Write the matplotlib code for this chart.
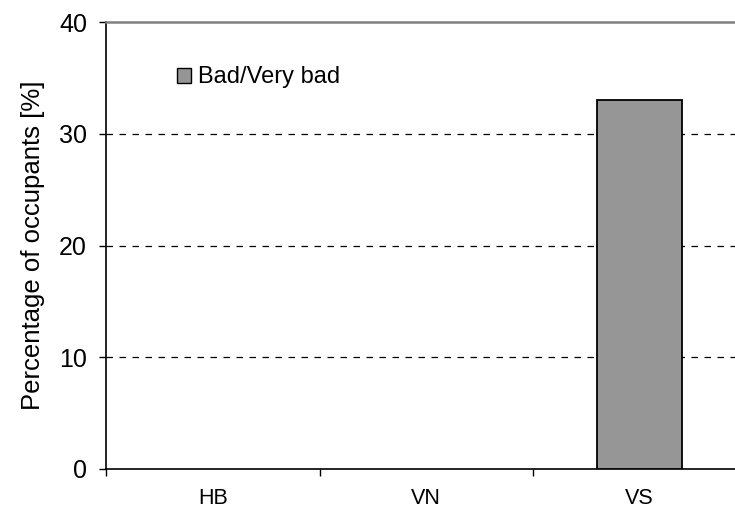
import matplotlib
matplotlib.use("Agg")
import matplotlib.pyplot as plt
from matplotlib.patches import Patch

categories = ["HB", "VN", "VS"]
values = [0, 0, 33]
series_name = "Bad/Very bad"
yticks = [0, 10, 20, 30, 40]

plt.rcParams['font.family'] = ['Liberation Sans', 'DejaVu Sans']

W, H = 735, 513
fig = plt.figure(figsize=(W / 100, H / 100), dpi=100)
left, right, top, bottom = 106, 746.5, 22, 469
ax = fig.add_axes([left / W, (H - bottom) / H, (right - left) / W, (bottom - top) / H])

x = list(range(len(categories)))
lws = [0 if v == 0 else 1.3 for v in values]
ax.bar(x, values, width=0.40, color="#969696", edgecolor="black", linewidth=lws, zorder=3)

ax.set_xlim(-0.5, 2.5)
ax.set_ylim(0, 40)
ax.set_yticks(yticks)
ax.set_yticklabels([str(v) for v in yticks], fontsize=18)
ax.tick_params(axis='y', length=5.2, width=1, pad=8.5, direction='out')
ax.yaxis.get_major_ticks()[-1].tick1line.set_color('#808080')

ax.set_xticks([-0.5, 0.5, 1.5, 2.5])
ax.set_xticklabels([])
ax.set_xticks(x, minor=True)
ax.set_xticklabels(categories, minor=True, fontsize=15.5)
ax.tick_params(axis='x', which='major', length=5.2, width=1, direction='out')
ax.tick_params(axis='x', which='minor', length=0, pad=14)

for v in [10, 20, 30]:
    ax.axhline(v, color="black", linestyle=(0, (5.2, 5.2)), linewidth=0.9, zorder=1)

ax.spines['right'].set_visible(False)
ax.spines['top'].set_color('#808080')
ax.spines['top'].set_linewidth(1.8)
ax.spines['left'].set_linewidth(1.2)
ax.spines['bottom'].set_linewidth(1.2)

ax.set_ylabel("Percentage of occupants [%]", fontsize=18.5, labelpad=10)

handle = Patch(facecolor="#969696", edgecolor="black", linewidth=1.0)
ax.legend([handle], [series_name], loc='center left',
          bbox_to_anchor=((177 - left) / (right - left), (bottom - 77.5) / (bottom - top)),
          frameon=False, fontsize=17, handlelength=0.6, handleheight=0.6,
          handletextpad=0.3, borderpad=0, borderaxespad=0)

fig.savefig("out.png", dpi=100)
